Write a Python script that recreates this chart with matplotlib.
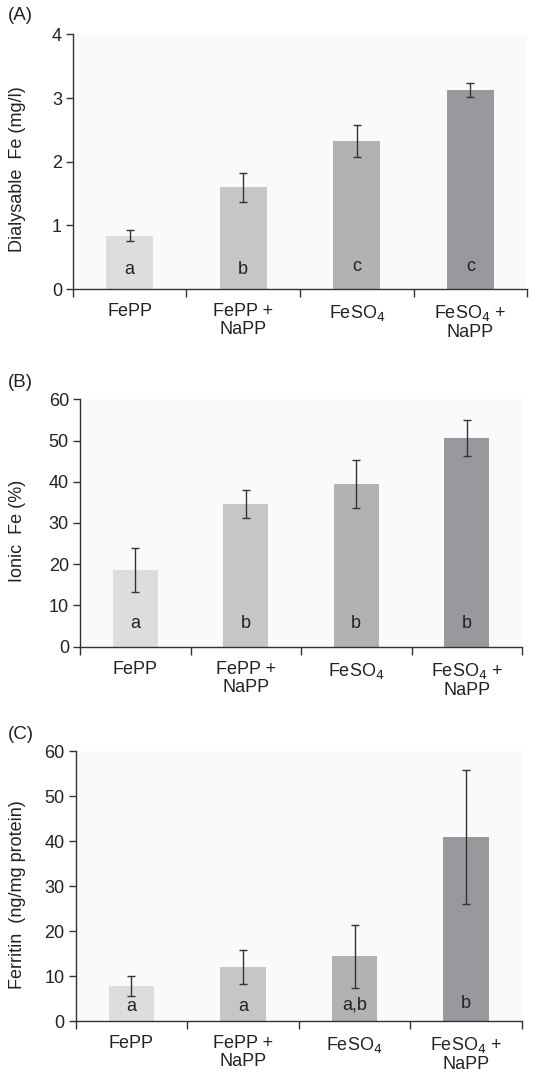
import matplotlib
matplotlib.use("Agg")
import matplotlib.pyplot as plt
import matplotlib.transforms as mtransforms
import numpy as np

plt.rcParams['font.family'] = ['Liberation Sans', 'DejaVu Sans']

categories = ["FePP", "FePP +\nNaPP", "FeSO$_4$", "FeSO$_4$ +\nNaPP"]
bar_colors = ["#dcdddf", "#c5c6c8", "#b1b2b4", "#97999c"]

dialysable = [0.84, 1.60, 2.32, 3.12]
dialysable_err = [0.08, 0.23, 0.25, 0.11]
dialysable_letters = ["a", "b", "c", "c"]

ionic = [18.6, 34.6, 39.4, 50.6]
ionic_err = [5.3, 3.3, 5.8, 4.4]
ionic_letters = ["a", "b", "b", "b"]

ferritin = [7.8, 12.0, 14.4, 40.9]
ferritin_err = [2.2, 3.7, 7.0, 14.8]
ferritin_letters = ["a", "a", "a,b", "b"]

panels = [
    dict(label="(A)", vals=dialysable, err=dialysable_err, letters=dialysable_letters,
         ylim=4, yticks=[0, 1, 2, 3, 4], ylabel="Dialysable  Fe (mg/l)",
         rect=[0.1332, 0.7309, 0.8285, 0.2370], letter_y=[0.3, 0.3, 0.35, 0.35],
         label_y=0.978),
    dict(label="(B)", vals=ionic, err=ionic_err, letters=ionic_letters,
         ylim=60, yticks=[0, 10, 20, 30, 40, 50, 60], ylabel="Ionic  Fe (%)",
         rect=[0.1460, 0.3979, 0.8066, 0.2303], letter_y=[5.7] * 4,
         label_y=0.6355),
    dict(label="(C)", vals=ferritin, err=ferritin_err, letters=ferritin_letters,
         ylim=60, yticks=[0, 10, 20, 30, 40, 50, 60], ylabel="Ferritin  (ng/mg protein)",
         rect=[0.1380, 0.0493, 0.8144, 0.2514], letter_y=[3.2, 3.2, 3.5, 3.8],
         label_y=0.3085),
]

fig = plt.figure(figsize=(5.48, 10.74), dpi=100)
axis_color = "#333333"
fs = 13

for p in panels:
    ax = fig.add_axes(p["rect"])
    ax.set_facecolor("#fafafa")
    x = np.arange(len(categories))
    ax.bar(x, p["vals"], width=0.41, color=bar_colors, edgecolor="none", zorder=2)
    ax.errorbar(x, p["vals"], yerr=p["err"], fmt="none", ecolor="#333333",
                elinewidth=1.0, capsize=3, capthick=1.0, zorder=3)
    for xi, (lt, ly) in enumerate(zip(p["letters"], p["letter_y"])):
        ax.text(xi, ly, lt, ha="center", va="center", fontsize=fs, color="#222222", zorder=4)
    ax.set_xlim(-0.5, 3.5)
    ax.set_ylim(0, p["ylim"])
    ax.set_yticks(p["yticks"])
    ax.set_yticklabels([str(t) for t in p["yticks"]], fontsize=fs, color="#222222")
    ax.set_xticks(x)
    ax.set_xticklabels(categories, fontsize=fs, color="#222222", linespacing=1.1)
    ax.tick_params(axis="x", length=0, pad=10)
    ax.set_xticks([-0.5, 0.5, 1.5, 2.5, 3.5], minor=True)
    ax.tick_params(axis="x", which="minor", length=6, width=1.0, color=axis_color, direction="out")
    ax.tick_params(axis="y", length=5, width=1.0, color=axis_color, direction="out", pad=3)
    for s in ["top", "right"]:
        ax.spines[s].set_visible(False)
    for s in ["left", "bottom"]:
        ax.spines[s].set_color(axis_color)
        ax.spines[s].set_linewidth(1.0)
    ax.set_ylabel(p["ylabel"], fontsize=fs, color="#222222")
    trans = mtransforms.blended_transform_factory(fig.transFigure, ax.transAxes)
    ax.yaxis.set_label_coords(0.047, 0.47, transform=trans)
    fig.text(0.015, p["label_y"], p["label"], fontsize=13.5,
             color="#222222", ha="left", va="bottom")

fig.savefig("out.png", dpi=100)
